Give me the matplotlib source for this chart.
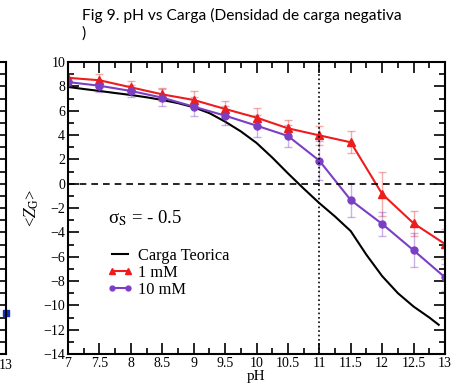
import matplotlib
matplotlib.use('Agg')
import matplotlib.pyplot as plt
from matplotlib.ticker import MultipleLocator

# datos
ph = [7.0, 7.5, 8.0, 8.5, 9.0, 9.5, 10.0, 10.5, 11.0, 11.5, 12.0, 12.5, 13.0]
carga_1mm = [8.7, 8.5, 7.92, 7.34, 6.88, 6.14, 5.43, 4.55, 3.97, 3.4, -0.85, -3.26, -4.96]
err_1mm = [0.3, 0.55, 0.5, 0.55, 0.7, 0.65, 0.8, 0.65, 0.8, 0.9, 1.8, 1.05, 1.2]
carga_10mm = [8.35, 8.05, 7.62, 7.07, 6.33, 5.59, 4.77, 3.92, 1.89, -1.35, -3.31, -5.48, -7.7]
err_10mm = [0.3, 0.5, 0.5, 0.7, 0.8, 0.8, 0.9, 0.9, 1.6, 1.4, 1.0, 1.4, 1.1]
ph_teorica = [7.0, 7.25, 7.5, 7.75, 8.0, 8.25, 8.5, 8.75, 9.0, 9.25, 9.5, 9.75, 10.0,
              10.25, 10.5, 10.75, 11.0, 11.25, 11.5, 11.75, 12.0, 12.25, 12.5, 12.75, 12.9]
carga_teorica = [7.95, 7.78, 7.62, 7.45, 7.29, 7.1, 6.88, 6.62, 6.28, 5.8, 5.1, 4.3, 3.35,
                 2.15, 0.85, -0.4, -1.6, -2.7, -3.9, -5.85, -7.6, -9.0, -10.1, -11.0, -11.6]

plt.rcParams['font.family'] = ['Liberation Serif', 'DejaVu Serif']
plt.rcParams['mathtext.fontset'] = 'stix'

fig = plt.figure(figsize=(4.55, 3.87), dpi=100)

# trozo del panel vecino que asoma por la izquierda
ax0 = fig.add_axes([-300 / 455, 33 / 387, 306 / 455, 292 / 387])
ax0.set_xlim(7, 13)
ax0.set_ylim(-14, 10)
ax0.yaxis.set_major_locator(MultipleLocator(1))
ax0.tick_params(direction='in', right=True, left=False, length=4, width=1.2,
                labelleft=False, labelsize=10)
ax0.set_xticks([13])
ax0.plot([13], [-10.6], 's', color='#1030c0', ms=5, clip_on=False)
for s in ax0.spines.values():
    s.set_linewidth(1.5)

ax = fig.add_axes([68 / 455, 33 / 387, 377 / 455, 292 / 387])
ax.plot(ph_teorica, carga_teorica, color='black', lw=1.5, label='Carga Teorica')
ax.errorbar(ph, carga_1mm, yerr=err_1mm, fmt='none', ecolor='#e03030', alpha=0.4,
            capsize=3, elinewidth=1)
ax.errorbar(ph, carga_10mm, yerr=err_10mm, fmt='none', ecolor='#7b3fc4', alpha=0.4,
            capsize=3, elinewidth=1)
ax.plot(ph, carga_1mm, color='#ee1c1c', lw=1.5, marker='^', ms=6, label='1 mM')
ax.plot(ph, carga_10mm, color='#7b3fc4', lw=1.5, marker='o', ms=5, label='10 mM')
ax.axhline(0, color='black', ls='--', lw=1.2, dashes=(4, 3))
ax.axvline(11, color='black', ls=':', lw=1.2)

ax.set_xlim(7, 13)
ax.set_ylim(-14, 10)
ax.xaxis.set_minor_locator(MultipleLocator(0.25))
ax.yaxis.set_major_locator(MultipleLocator(2))
ax.yaxis.set_minor_locator(MultipleLocator(1))
ax.set_xticks([7, 7.5, 8, 8.5, 9, 9.5, 10, 10.5, 11, 11.5, 12, 12.5, 13])
ax.set_xticklabels(['7', '7.5', '8', '8.5', '9', '9.5', '10', '10.5', '11',
                    '11.5', '12', '12.5', '13'])
ax.tick_params(which='both', direction='in', top=True, right=True, width=1.2,
               labelsize=10, pad=2)
ax.tick_params(which='major', length=8)
ax.tick_params(which='minor', length=4)
for s in ax.spines.values():
    s.set_linewidth(1.5)

ax.set_xlabel('pH', fontsize=11, labelpad=0)
ax.set_ylabel(r'<$Z_{\mathrm{G}}$>', fontsize=12, labelpad=2)

ax.text(7.64, -2.8, r'σ$_{\mathrm{S}}$ = - 0.5', fontsize=13.5, va='center')
ax.legend(loc='upper left', bbox_to_anchor=(0.085, 0.385), frameon=False, fontsize=11.8,
          handlelength=1.6, handletextpad=0.3, labelspacing=0.05, borderaxespad=0,
          numpoints=2, markerscale=0.7)

fig.text(82 / 455, 1 - 8 / 387, 'Fig 9. pH vs Carga (Densidad de carga negativa\n)',
         family=['Lato', 'DejaVu Sans'], fontsize=11.2, va='top', ha='left',
         linespacing=1.3)

fig.savefig('out.png', dpi=100, facecolor='white')
plt.close(fig)
